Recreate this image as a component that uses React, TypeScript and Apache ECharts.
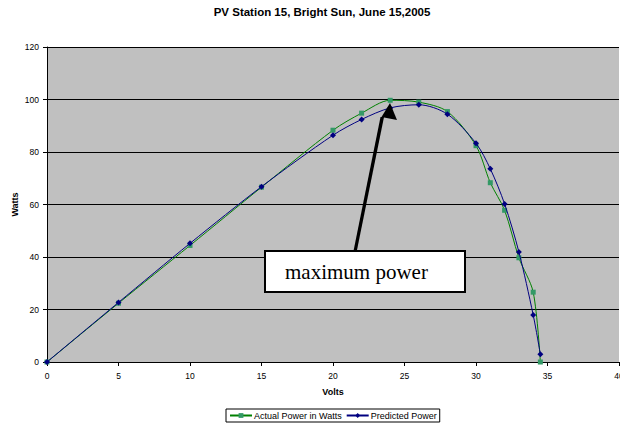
import React, { useEffect, useRef } from "react";
import * as echarts from "echarts";

const volts = [0, 5, 10, 15, 20, 22, 24, 26, 28, 30, 31, 32, 33, 34, 34.5];
const actualPower = [0, 22.4, 44.4, 66.6, 88.3, 94.8, 99.7, 99.0, 95.4, 82.4, 68.3, 57.8, 39.7, 26.6, 0];
const predictedPower = [0, 22.7, 45.2, 66.8, 86.4, 92.4, 96.8, 98.0, 94.4, 83.3, 73.6, 60.2, 41.9, 17.9, 3.0];
const xTicks = { min: 0, max: 40, interval: 5 };
const yTicks = { min: 0, max: 120, interval: 20 };
const titleText = "PV Station 15, Bright Sun, June 15,2005";
const annotationText = "maximum power";

export default function App() {
  const ref = useRef<HTMLDivElement>(null);
  useEffect(() => {
    document.body.style.margin = "0";
    if (!ref.current) return;
    const chart = echarts.init(ref.current, null, { renderer: "svg" });
    const font = "Arial, 'Liberation Sans', sans-serif";
    chart.setOption({
      animation: false,
      backgroundColor: "#ffffff",
      title: {
        text: titleText,
        left: 317,
        textAlign: "center",
        top: 1,
        textStyle: { fontFamily: font, fontSize: 11.5, fontWeight: "bold", color: "#000" },
      },
      grid: {
        left: 47,
        top: 47,
        right: 1,
        bottom: 61,
        show: true,
        backgroundColor: "#C0C0C0",
        borderWidth: 0,
        outerBoundsMode: "none",
        containLabel: false,
      },
      legend: {
        bottom: 1,
        left: 226,
        itemWidth: 22,
        itemHeight: 6,
        itemGap: 4,
        padding: [2, 3, 2, 3],
        borderColor: "#000",
        borderWidth: 1,
        backgroundColor: "#fff",
        textStyle: { fontFamily: font, fontSize: 9, color: "#000", padding: [0, 0, 0, -3] },
        data: ["Actual Power in Watts", "Predicted Power"],
      },
      xAxis: {
        type: "value",
        min: xTicks.min,
        max: xTicks.max,
        interval: xTicks.interval,
        name: "Volts",
        nameLocation: "middle",
        nameGap: 25,
        nameMoveOverlap: false,
        nameTextStyle: { fontFamily: font, fontSize: 9, fontWeight: "bold", color: "#000" },
        axisLine: { show: true, lineStyle: { color: "#000", width: 1 } },
        axisTick: { show: true, length: 4, lineStyle: { color: "#000" } },
        axisLabel: { fontFamily: font, fontSize: 8.5, color: "#000", margin: 9, showMaxLabel: true },
        splitLine: { show: false },
      },
      yAxis: {
        type: "value",
        min: yTicks.min,
        max: yTicks.max,
        interval: yTicks.interval,
        name: "Watts",
        nameLocation: "middle",
        nameGap: 28,
        nameMoveOverlap: false,
        nameRotate: 90,
        nameTextStyle: { fontFamily: font, fontSize: 9, fontWeight: "bold", color: "#000" },
        axisLine: { show: true, lineStyle: { color: "#000", width: 1 } },
        axisTick: { show: true, length: 4, lineStyle: { color: "#000" } },
        axisLabel: { fontFamily: font, fontSize: 8.5, color: "#000", margin: 8 },
        splitLine: { show: true, lineStyle: { color: "#000", width: 1 } },
      },
      series: [
        {
          name: "Actual Power in Watts",
          type: "line",
          smooth: 0.3,
          data: volts.map((v, i) => [v, actualPower[i]]),
          symbol: "rect",
          symbolSize: 5,
          lineStyle: { color: "#008000", width: 1 },
          itemStyle: { color: "#339966", borderWidth: 0 },
          z: 2,
        },
        {
          name: "Predicted Power",
          type: "line",
          smooth: 0.3,
          data: volts.map((v, i) => [v, predictedPower[i]]),
          symbol: "diamond",
          symbolSize: 6,
          lineStyle: { color: "#000080", width: 1 },
          itemStyle: { color: "#000080", borderWidth: 0 },
          z: 3,
        },
      ],
      graphic: [
        {
          type: "polygon",
          z: 100,
          shape: { points: [[353.5, 251], [356.8, 251], [384, 117], [380.5, 117]] },
          style: { fill: "#000" },
        },
        {
          type: "polygon",
          z: 100,
          shape: { points: [[390, 103], [381.5, 117], [397, 120]] },
          style: { fill: "#000" },
        },
        {
          type: "rect",
          z: 100,
          shape: { x: 265, y: 251, width: 200, height: 41 },
          style: { fill: "#fff", stroke: "#000", lineWidth: 2 },
        },
        {
          type: "text",
          z: 101,
          x: 285,
          y: 272,
          style: {
            text: annotationText,
            fontFamily: "'Liberation Serif', 'Times New Roman', serif",
            fontSize: 21,
            fill: "#000",
            textVerticalAlign: "middle",
            verticalAlign: "middle",
          },
        },
      ],
    });
    return () => chart.dispose();
  }, []);
  return <div ref={ref} style={{ width: 620, height: 423 }} />;
}
